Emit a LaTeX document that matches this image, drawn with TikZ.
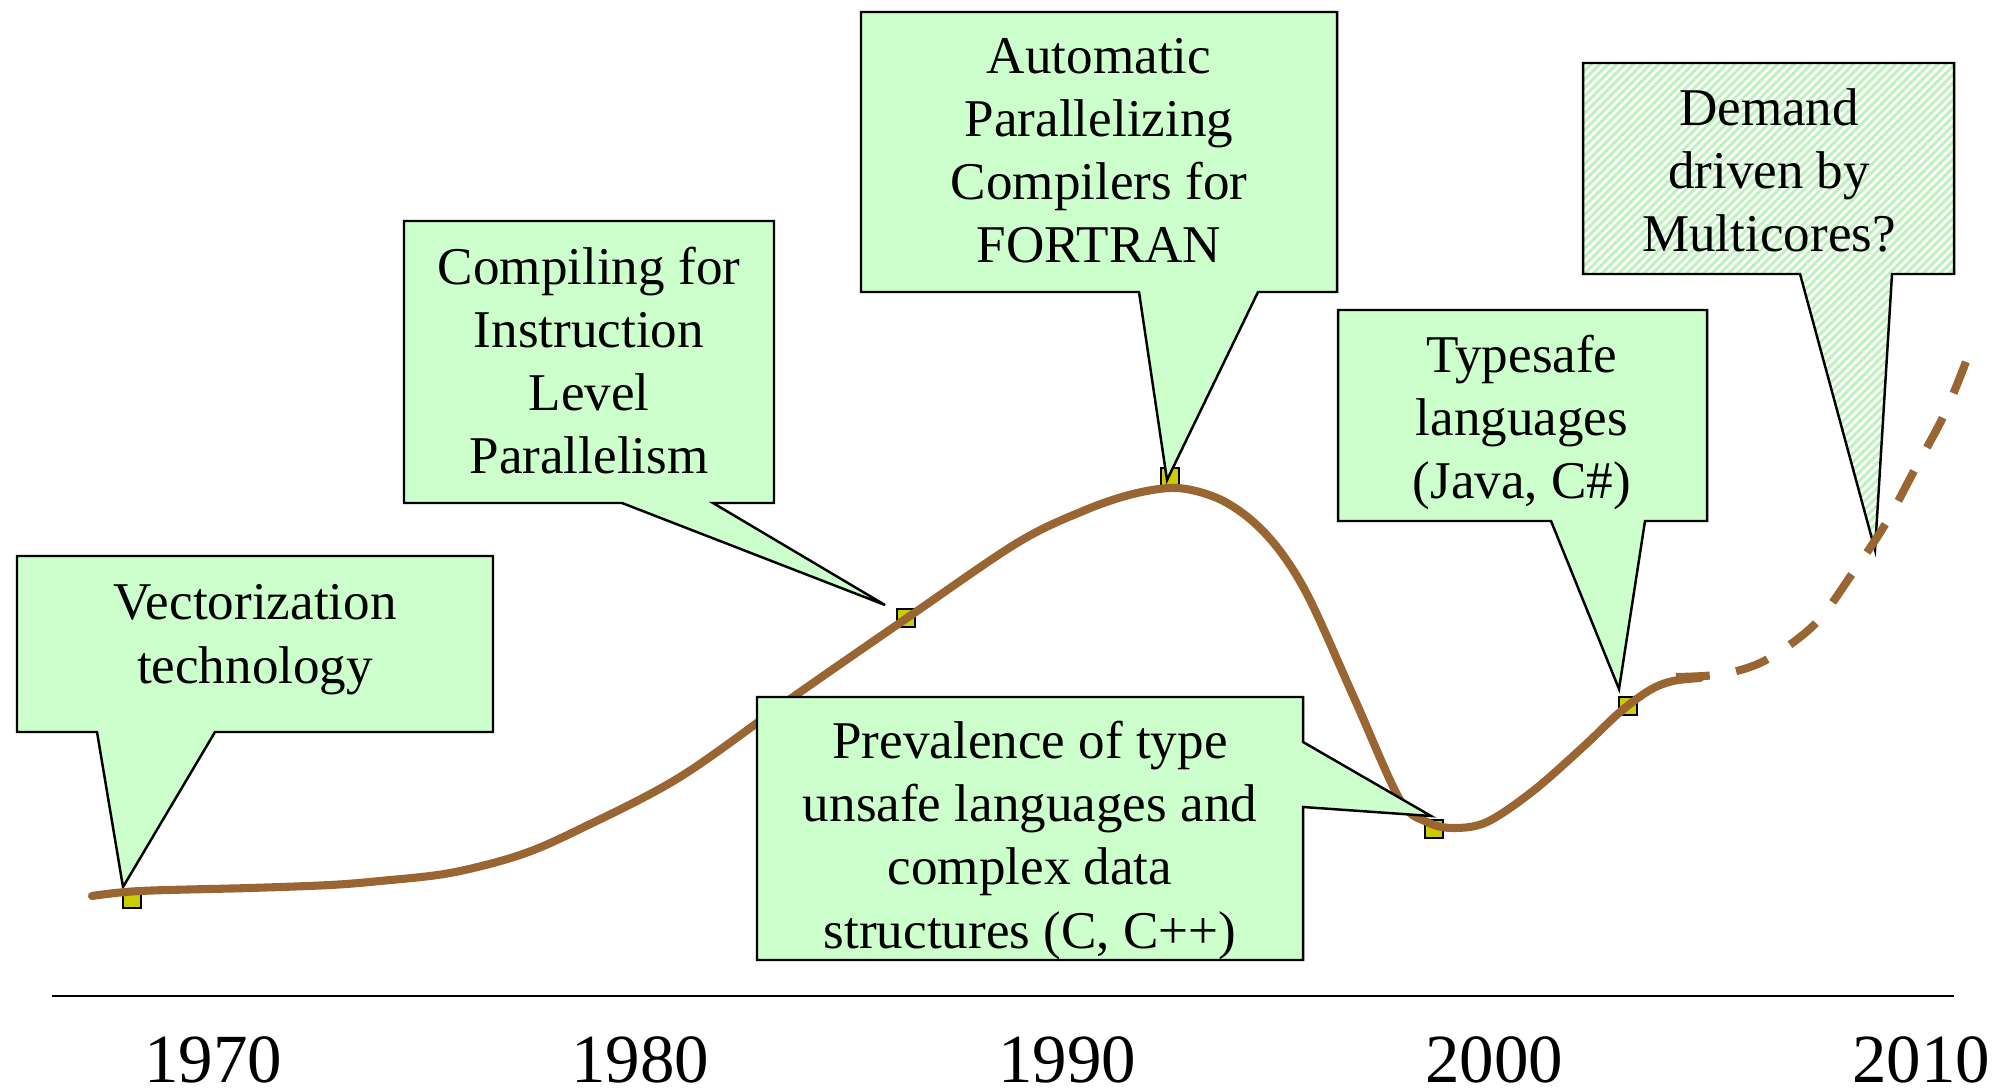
\documentclass[tikz,border=0pt]{standalone}
\usepackage{fontspec}
\setmainfont{Liberation Serif}
\usetikzlibrary{patterns.meta}
\definecolor{boxfill}{HTML}{CCFFCC}
\definecolor{stripec}{HTML}{BDF2BD}
\definecolor{curvec}{HTML}{996633}
\definecolor{markc}{HTML}{CCCC00}
\begin{document}
\begin{tikzpicture}[x=0.01cm,y=-0.01cm,
  callout/.style={fill=boxfill, draw=black, line width=0.7pt, line join=miter},
  hatched/.style={pattern={Lines[angle=45,distance=1.7pt,line width=0.85pt]}, pattern color=stripec, draw=black, line width=0.7pt, line join=miter},
  txt/.style={align=center, anchor=base, font=\fontsize{15.1}{17.93}\selectfont, inner sep=0pt},
  year/.style={anchor=base, font=\fontsize{19.6}{23}\selectfont, inner sep=0pt},
  marker/.style={draw=black, fill=markc, line width=0.5pt, minimum size=0.175cm, inner sep=0pt},
  trend/.style={draw=curvec, line width=2.3pt}]
\useasboundingbox (0,0) rectangle (2013,1089);

% markers
\node[marker] (m1) at (132,899) {};
\node[marker] (m2) at (906,618) {};
\node[marker] (m3) at (1170,477) {};
\node[marker] (m4) at (1628,706) {};
\node[marker] (m5) at (1434,829) {};

% pointer tips
\coordinate (tip1) at (123,887);
\coordinate (tip2) at (885,605);
\coordinate (tip3) at (1167,480);
\coordinate (tip4) at (1619,689);
\coordinate (tip5) at (1431,816);
\coordinate (tip6) at (1875,550);

% callouts drawn below the curve
\path[callout] (17,556) -- (493,556) -- (493,732) -- (215,732) -- (tip1) -- (97,732) -- (17,732) -- cycle;
\path[callout] (404,221) -- (774,221) -- (774,503) -- (713,503) -- (tip2) -- (622,503) -- (404,503) -- cycle;
\path[callout] (861,12) -- (1337,12) -- (1337,292) -- (1258,292) -- (tip3) -- (1139,292) -- (861,292) -- cycle;
\path[callout] (1338,310) -- (1707,310) -- (1707,521) -- (1645,521) -- (tip4) -- (1551,521) -- (1338,521) -- cycle;
\path[hatched] (1583,63) -- (1954,63) -- (1954,274) -- (1892,274) -- (tip6) -- (1800,274) -- (1583,274) -- cycle;

% trend curve
\draw[trend, line cap=round] plot[smooth, tension=0.55] coordinates {
 (92,896) (140,891) (250,888) (330,885) (380,881) (450,873) (520,855) (580,829) (680,777)
 (793,697) (907,618) (1017,543) (1083,511) (1133,494) (1177,488) (1217,498)
 (1250,519) (1280,551) (1310,600) (1355,700) (1400,800) (1427,822) (1453,828)
 (1487,822) (1533,791) (1583,747) (1620,712) (1650,690) (1673,681) (1700,678)};
\draw[trend, dash pattern=on 9.6pt off 7.6pt] plot[smooth, tension=0.55] coordinates {
 (1676,677) (1723,674) (1766,660) (1815,624) (1852,574) (1886,523) (1915,469)
 (1944,415) (1967,359) (1973,340)};

% callout drawn above the curve
\path[callout] (757,697) -- (1303,697) -- (1303,742) -- (tip5) -- (1303,807) -- (1303,960) -- (757,960) -- cycle;

% texts (anchor = baseline of the last line)
\node[txt] (t1) at (255,683) {Vectorization\\technology};
\node[txt] (t2) at (589,474) {Compiling for\\Instruction\\Level\\Parallelism};
\node[txt] (t3) at (1099,263) {Automatic\\Parallelizing\\Compilers for\\FORTRAN};
\node[txt] (t4) at (1522,499) {Typesafe\\languages\\(Java, C\#)};
\node[txt] (t5) at (1030,948) {Prevalence of type\\unsafe languages and\\complex data\\structures (C, C++)};
\node[txt] (t6) at (1769,252) {Demand\\driven by\\Multicores?};

% time axis
\coordinate (axL) at (52,996);
\coordinate (axR) at (1954,996);
\draw[line width=0.8pt] (axL) -- (axR);
\node[year] (y1970) at (213,1082) {1970};
\node[year] (y1980) at (640,1082) {1980};
\node[year] (y1990) at (1067,1082) {1990};
\node[year] (y2000) at (1494,1082) {2000};
\node[year] (y2010) at (1921,1082) {2010};
\end{tikzpicture}
\end{document}
